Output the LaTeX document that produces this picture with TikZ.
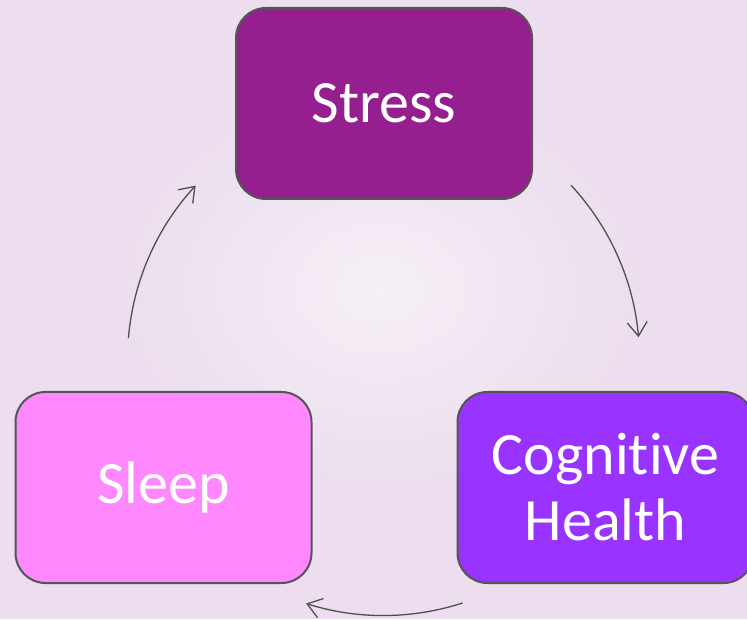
\documentclass[tikz,border=0pt]{standalone}
\usepackage{fontspec}
\setmainfont[Ligatures=NoCommon]{Carlito}
\usetikzlibrary{arrows.meta,calc}
\definecolor{bgc}{HTML}{ECDEEE}
\definecolor{glow}{HTML}{F6EFF7}
\definecolor{stressc}{HTML}{951F8F}
\definecolor{sleepc}{HTML}{FF88FF}
\definecolor{cogc}{HTML}{9933FF}
\definecolor{edgec}{HTML}{555555}
\definecolor{arrowc}{HTML}{505050}
\tikzset{
  box/.style={draw=edgec, line width=2pt, rounded corners=30pt,
    minimum width=296pt, minimum height=191pt, inner sep=0pt,
    text=white, font=\fontsize{60}{66}\selectfont, align=center},
  cyc/.style={draw=arrowc, line width=1.3pt,
    -{Straight Barb[length=14pt,width=20pt,line width=1.3pt]}}
}
\begin{document}
\begin{tikzpicture}[x=1pt,y=1pt]
\useasboundingbox (0,0) rectangle (747,619);
\fill[bgc] (0,0) rectangle (747,619);
\shade[inner color=glow, outer color=bgc] (380,330) ellipse [x radius=260, y radius=200];
\begin{scope}
\clip (0,0) rectangle (747,619);
\node[box, fill=stressc] (stress) at (384,515.5) {Stress};
\node[box, fill=sleepc] (sleep) at (163.5,131.5) {Sleep};
\node[box, fill=cogc] (cog) at (605.5,131.5) {Cognitive\\Health};
\end{scope}
\coordinate (ctr) at (383.5,259.5);
\draw[cyc] ($(ctr)+(42.9:256)$) arc[start angle=42.9, end angle=5, radius=256];
\draw[cyc] ($(ctr)+(-72:256)$) arc[start angle=-72, end angle=-107.6, radius=256];
\draw[cyc] ($(ctr)+(175.2:256)$) arc[start angle=175.2, end angle=137.2, radius=256];
\end{tikzpicture}
\end{document}
